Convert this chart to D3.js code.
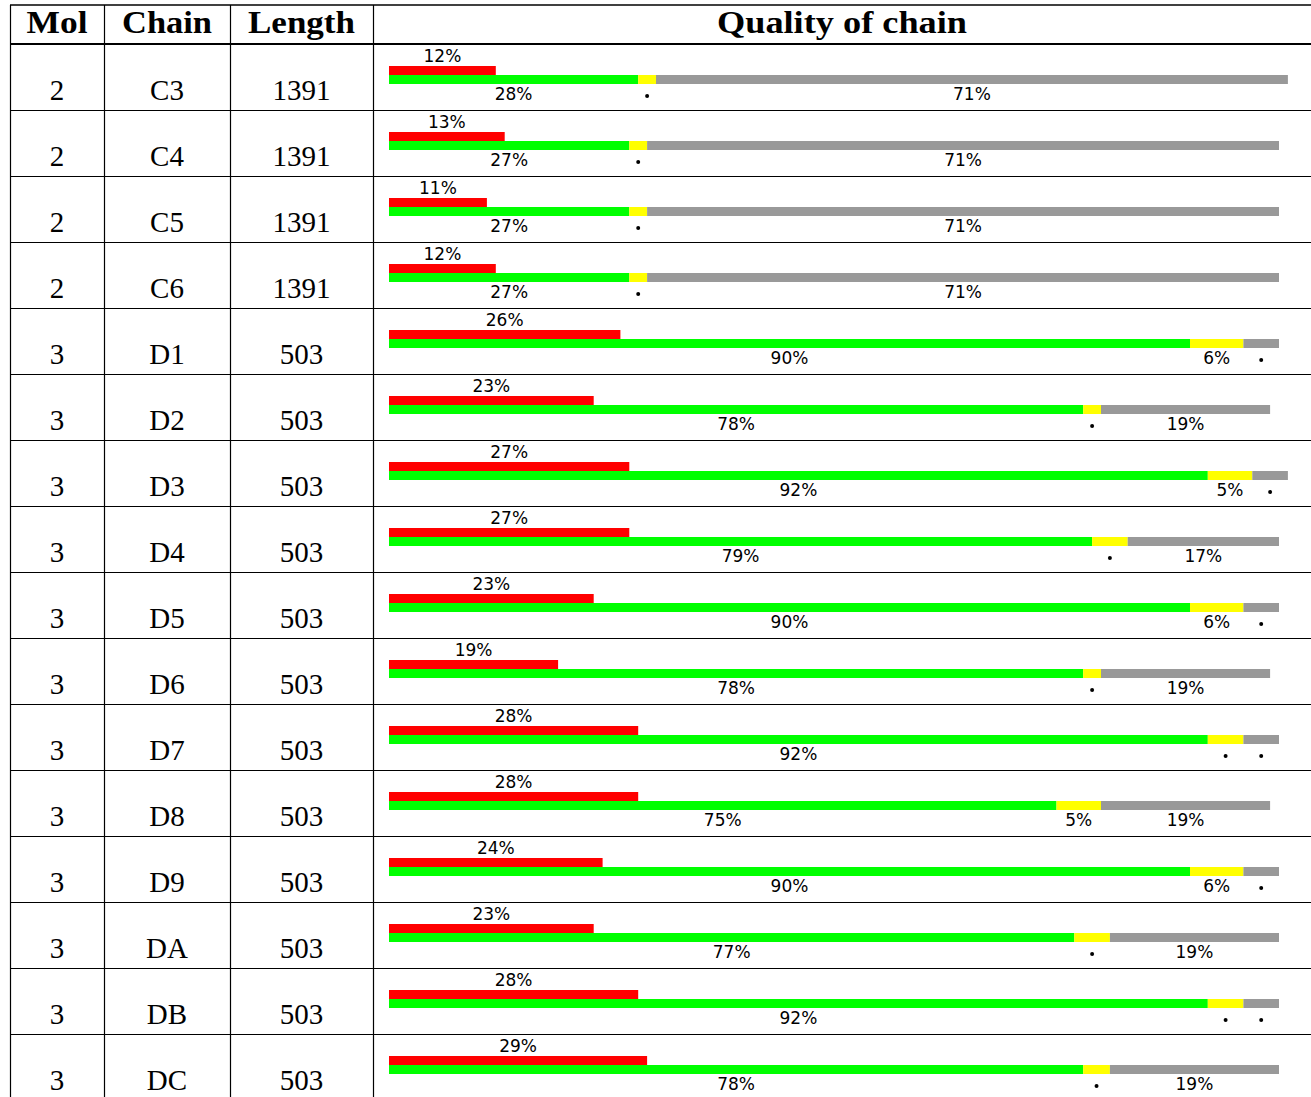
<!DOCTYPE html>
<html>
<head>
<meta charset="utf-8">
<script src="https://cdn.jsdelivr.net/npm/d3@7"></script>
<style>
  body { margin: 0; background: #fff; }
  svg { display: block; }
</style>
</head>
<body>
<div id="chart"></div>
<script>
// table data
const headers = ["Mol", "Chain", "Length", "Quality of chain"];
const mols = [2, 2, 2, 2, 3, 3, 3, 3, 3, 3, 3, 3, 3, 3, 3, 3];
const chains = ["C3", "C4", "C5", "C6", "D1", "D2", "D3", "D4", "D5", "D6", "D7", "D8", "D9", "DA", "DB", "DC"];
const lengths = [1391, 1391, 1391, 1391, 503, 503, 503, 503, 503, 503, 503, 503, 503, 503, 503, 503];
// percentages per chain
const redPct = [12, 13, 11, 12, 26, 23, 27, 27, 23, 19, 28, 28, 24, 23, 28, 29];
const greenPct = [28, 27, 27, 27, 90, 78, 92, 79, 90, 78, 92, 75, 90, 77, 92, 78];
const yellowPct = [2, 2, 2, 2, 6, 2, 5, 4, 6, 2, 4, 5, 6, 4, 4, 3];
const grayPct = [71, 71, 71, 71, 4, 19, 4, 17, 4, 19, 4, 19, 4, 19, 4, 19];

main();

function main() {
  const width = 1311;
  const height = 1097;

  const svg = d3.select("#chart")
    .append("svg")
    .attr("width", width)
    .attr("height", height);

  const colX = [10, 104, 230, 373, 1311];
  const headWidths = [61, 90, 107, 250]; // bold extended look of the header
  const headTop = 5, headBottom = 44, rowH = 66;

  const y = d3.scaleBand()
    .domain(chains)
    .range([headBottom + 1, headBottom + 1 + rowH * chains.length])
    .padding(0);

  const x = d3.scaleLinear().domain([0, 100]).range([389, 389 + 890]);

  const serif = "'Liberation Serif', 'Times New Roman', serif";
  const sans = "'DejaVu Sans', sans-serif";

  // header text
  svg.selectAll("text.head")
    .data(headers)
    .join("text")
    .attr("class", "head")
    .attr("x", (d, i) => (colX[i] + colX[i + 1]) / 2)
    .attr("y", 33)
    .attr("text-anchor", "middle")
    .attr("font-family", serif)
    .attr("font-weight", "bold")
    .attr("font-size", 31)
    .attr("textLength", (d, i) => headWidths[i])
    .attr("lengthAdjust", "spacingAndGlyphs")
    .text(d => d);

  const rows = svg.selectAll("g.row")
    .data(chains.map((c, i) => ({
      chain: c, mol: mols[i], len: lengths[i],
      red: redPct[i], green: greenPct[i], yellow: yellowPct[i], gray: grayPct[i]
    })))
    .join("g")
    .attr("class", "row")
    .attr("transform", d => `translate(0,${y(d.chain)})`);

  const cellText = [d => d.mol, d => d.chain, d => d.len];
  cellText.forEach((f, i) => {
    rows.append("text")
      .attr("x", (colX[i] + colX[i + 1]) / 2)
      .attr("y", 55)
      .attr("text-anchor", "middle")
      .attr("font-family", serif)
      .attr("font-size", 29)
      .text(f);
  });

  // red bar
  rows.append("rect")
    .attr("x", x(0))
    .attr("y", 21)
    .attr("width", d => x(d.red) - x(0))
    .attr("height", 9)
    .attr("fill", "#ff0000");

  rows.append("text")
    .attr("x", d => (x(0) + x(d.red)) / 2)
    .attr("y", 17)
    .attr("text-anchor", "middle")
    .attr("font-family", sans)
    .attr("font-size", 17)
    .text(d => d.red + "%");

  // stacked quality bar
  const segColors = { green: "#00ff00", yellow: "#ffff00", gray: "#999999" };
  rows.each(function(d) {
    const g = d3.select(this);
    let start = 0;
    ["green", "yellow", "gray"].forEach(k => {
      const v = d[k];
      const x0 = x(start), x1 = x(start + v);
      g.append("rect")
        .attr("x", x0)
        .attr("y", 30)
        .attr("width", x1 - x0)
        .attr("height", 9)
        .attr("fill", segColors[k]);
      if (v >= 5) {
        g.append("text")
          .attr("x", (x0 + x1) / 2)
          .attr("y", 55)
          .attr("text-anchor", "middle")
          .attr("font-family", sans)
          .attr("font-size", 17)
          .text(v + "%");
      } else {
        g.append("circle")
          .attr("cx", (x0 + x1) / 2)
          .attr("cy", 51)
          .attr("r", 2)
          .attr("fill", "#000");
      }
      start += v;
    });
  });

  // grid lines
  svg.append("line")
    .attr("x1", colX[0]).attr("x2", width)
    .attr("y1", headTop).attr("y2", headTop)
    .attr("stroke", "#000").attr("stroke-width", 1.5);
  svg.append("line")
    .attr("x1", colX[0]).attr("x2", width)
    .attr("y1", headBottom).attr("y2", headBottom)
    .attr("stroke", "#000").attr("stroke-width", 2);

  svg.selectAll("line.rowline")
    .data(chains.slice(1))
    .join("line")
    .attr("class", "rowline")
    .attr("x1", colX[0]).attr("x2", width)
    .attr("y1", d => y(d) - 0.5).attr("y2", d => y(d) - 0.5)
    .attr("stroke", "#000").attr("stroke-width", 1.2);

  svg.selectAll("line.colline")
    .data(colX.slice(0, 4))
    .join("line")
    .attr("class", "colline")
    .attr("x1", d => d + 0.5).attr("x2", d => d + 0.5)
    .attr("y1", headTop).attr("y2", height)
    .attr("stroke", "#000").attr("stroke-width", 1.2);
}
</script>
</body>
</html>
